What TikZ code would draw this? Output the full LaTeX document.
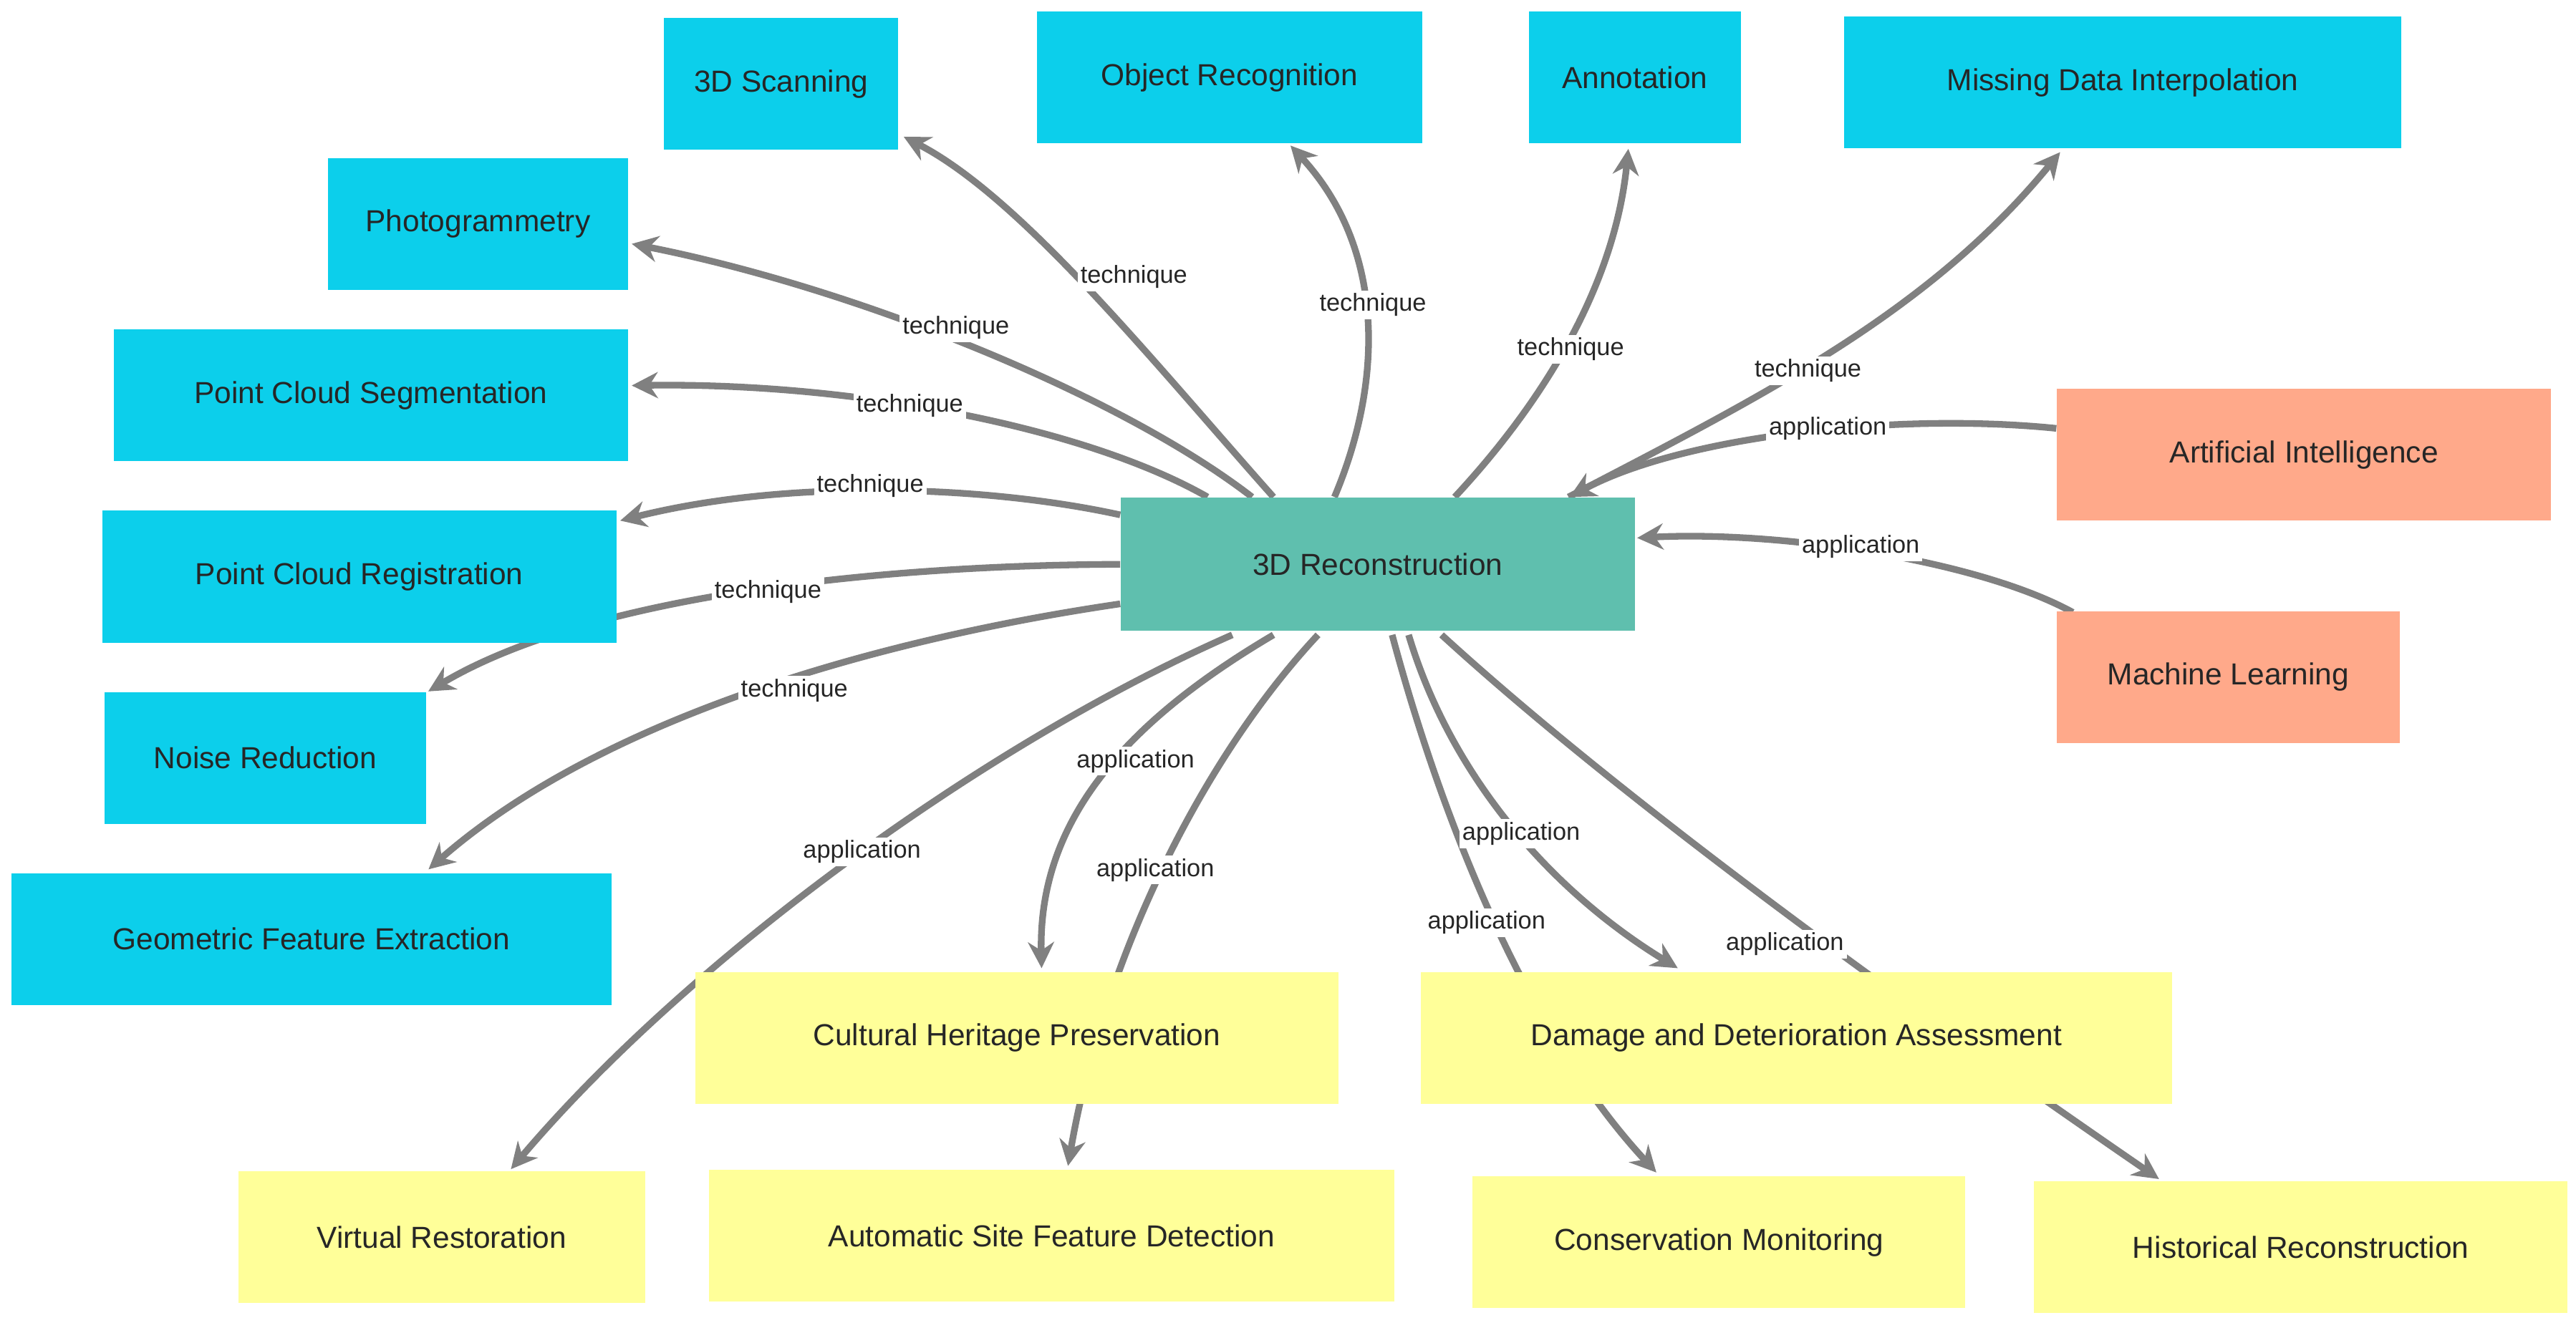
\documentclass[tikz,border=0pt]{standalone}
\usepackage{fontspec}
\setmainfont{Liberation Sans}
\usetikzlibrary{calc,arrows.meta}
\definecolor{tblue}{HTML}{0CCFEB}
\definecolor{tteal}{HTML}{5FBFAE}
\definecolor{tsal}{HTML}{FFA98A}
\definecolor{tyel}{HTML}{FFFF99}
\definecolor{tline}{HTML}{808080}
\pgfdeclarelayer{bgz}
\pgfdeclarelayer{edges}
\pgfsetlayers{bgz,edges,main}
\begin{document}
\begin{tikzpicture}[x=0.02cm,y=-0.02cm,
 box/.style={draw=none,minimum height=1.6cm,inner sep=0pt,font=\fontsize{10.5}{12}\selectfont,text=black!85},
 tech/.style={box,fill=tblue},
 app/.style={box,fill=tyel},
 src/.style={box,fill=tsal},
 edge/.style={draw=tline,line width=2.3pt,-{Stealth[length=9pt,width=9pt]}},
 lab/.style={font=\fontsize{8.5}{10}\selectfont,fill=white,inner sep=1pt,text=black!85}]
\begin{pgfonlayer}{bgz}
\fill[white] (0,0) rectangle (1563,809);
\end{pgfonlayer}
\useasboundingbox (0,0) rectangle (1563,809);
% nodes
\node[tech,minimum width=2.84cm] (scan) at (474,51) {3D Scanning};
\node[tech,minimum width=4.68cm] (obj) at (746,47) {Object Recognition};
\node[tech,minimum width=2.58cm] (ann) at (992,47) {Annotation};
\node[tech,minimum width=6.76cm] (mdi) at (1288,50) {Missing Data Interpolation};
\node[tech,minimum width=3.64cm] (photo) at (290,136) {Photogrammetry};
\node[tech,minimum width=6.24cm] (seg) at (225,240) {Point Cloud Segmentation};
\node[tech,minimum width=6.24cm] (reg) at (218,350) {Point Cloud Registration};
\node[tech,minimum width=3.9cm] (noise) at (161,460) {Noise Reduction};
\node[tech,minimum width=7.28cm] (geo) at (189,570) {Geometric Feature Extraction};
\node[box,fill=tteal,minimum width=6.24cm,minimum height=1.62cm] (rec) at (836,342.5) {3D Reconstruction};
\node[src,minimum width=6cm] (ai) at (1398,276) {Artificial Intelligence};
\node[src,minimum width=4.16cm] (ml) at (1352,411) {Machine Learning};
\node[app,minimum width=7.8cm] (cult) at (617,630) {Cultural Heritage Preservation};
\node[app,minimum width=9.12cm] (dmg) at (1090,630) {Damage and Deterioration Assessment};
\node[app,minimum width=4.94cm] (vr) at (268,751) {Virtual Restoration};
\node[app,minimum width=8.32cm] (asfd) at (638,750) {Automatic Site Feature Detection};
\node[app,minimum width=5.98cm] (cons) at (1043,754) {Conservation Monitoring};
\node[app,minimum width=6.48cm] (hist) at (1396,757) {Historical Reconstruction};
% edges
\begin{pgfonlayer}{edges}
\draw[edge] ($(rec.north west)+(93,0)$) .. controls (700,220) and (620,120) .. ($(scan.east)+(3,32)$);
\draw[edge] ($(rec.north west)+(130,0)$) .. controls (840,230) and (840,150) .. ($(obj.south)+(37,1)$);
\draw[edge] ($(rec.north west)+(203,0)$) .. controls (940,240) and (980,170) .. ($(ann.south)+(-4,3)$);
\draw[edge] ($(rec.north west)+(272,0)$) .. controls (1070,240) and (1170,190) .. ($(mdi.south)+(-38,2)$);
\draw[edge] ($(rec.north west)+(80,0)$) .. controls (680,240) and (520,175) .. ($(photo.east)+(2,12)$);
\draw[edge] ($(rec.north west)+(53,0)$) .. controls (660,260) and (520,232) .. ($(seg.east)+(2,-6)$);
\draw[edge] ($(rec.west)+(0,-30)$) .. controls (600,295) and (480,290) .. ($(reg.east)+(2,-34)$);
\draw[edge] (rec.west) .. controls (540,343) and (360,360) .. ($(noise.north east)+(1,0)$);
\draw[edge] ($(rec.west)+(0,24)$) .. controls (520,390) and (360,440) .. ($(geo.north)+(71,-2)$);
\draw[edge] ($(ai.west)+(0,-16)$) .. controls (1150,250) and (1020,265) .. ($(rec.north east)+(-40,0)$);
\draw[edge] ($(ml.north west)+(10,1)$) .. controls (1200,340) and (1080,322) .. ($(rec.east)+(1,-16)$);
\draw[edge] ($(rec.south west)+(68,2)$) .. controls (600,450) and (420,580) .. ($(vr.north)+(42,-1)$);
\draw[edge] ($(rec.south west)+(93,2)$) .. controls (680,440) and (630,500) .. ($(cult.north)+(15,-2)$);
\draw[edge] ($(rec.south west)+(120,2)$) .. controls (730,460) and (670,580) .. ($(asfd.north)+(10,-2)$);
\draw[edge] ($(rec.south west)+(165,2)$) .. controls (870,480) and (920,620) .. ($(cons.north)+(-38,-2)$);
\draw[edge] ($(rec.south west)+(175,2)$) .. controls (880,470) and (940,540) .. ($(dmg.north)+(-72,-2)$);
\draw[edge] ($(rec.south west)+(195,2)$) .. controls (1000,500) and (1200,640) .. ($(hist.north)+(-86,-1)$);
\end{pgfonlayer}
% labels
\node[lab] (l1) at (688,168) {technique};
\node[lab] (l2) at (833,185) {technique};
\node[lab] (l3) at (953,212) {technique};
\node[lab] (l4) at (1097,225) {technique};
\node[lab] (l5) at (580,199) {technique};
\node[lab] (l6) at (552,246) {technique};
\node[lab] (l7) at (528,295) {technique};
\node[lab] (l8) at (466,359) {technique};
\node[lab] (l9) at (482,419) {technique};
\node[lab] (l10) at (1109,260) {application};
\node[lab] (l11) at (1129,332) {application};
\node[lab] (l12) at (523,517) {application};
\node[lab] (l13) at (689,462) {application};
\node[lab] (l14) at (701,528) {application};
\node[lab] (l15) at (902,560) {application};
\node[lab] (l16) at (923,506) {application};
\node[lab] (l17) at (1083,573) {application};
\end{tikzpicture}
\end{document}
